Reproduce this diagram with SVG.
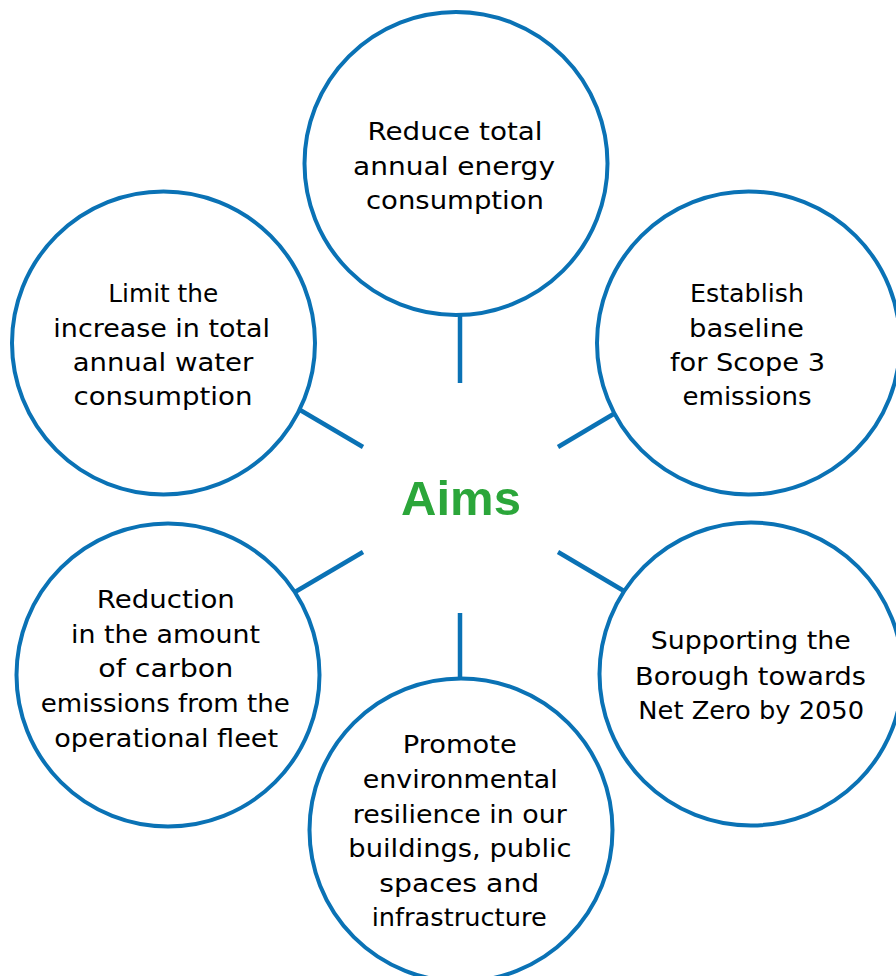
<svg xmlns="http://www.w3.org/2000/svg" width="896" height="976" viewBox="0 0 896 976">
<style>
.c{fill:#fff;stroke:#0a72b5;stroke-width:4}
.l{stroke:#0a72b5;stroke-width:4.5;stroke-linecap:butt;fill:none}
.t{font-family:"DejaVu Sans","Liberation Sans",sans-serif;font-size:25px;fill:#000;text-anchor:middle}
.aims{font-family:"Liberation Sans",Arial,sans-serif;font-weight:bold;font-size:49px;fill:#2ba63a;text-anchor:middle}
</style>
<rect width="896" height="976" fill="#fff"/>
<g id="connectors">
<line class="l" x1="460" y1="300" x2="460" y2="383"/>
<line class="l" x1="295" y1="407" x2="363" y2="447"/>
<line class="l" x1="622" y1="409" x2="558" y2="447"/>
<line class="l" x1="363" y1="552" x2="295" y2="592"/>
<line class="l" x1="558" y1="552" x2="624" y2="591"/>
<line class="l" x1="460" y1="613" x2="460" y2="690"/>
</g>
<g id="center">
<text class="aims" x="461" y="515">Aims</text>
</g>
<g id="node-energy">
<circle class="c" cx="456" cy="163.5" r="151.5"/>
<text class="t" x="455" y="140" textLength="175" lengthAdjust="spacingAndGlyphs">Reduce total</text>
<text class="t" x="454" y="175" textLength="202" lengthAdjust="spacingAndGlyphs">annual energy</text>
<text class="t" x="455" y="209" textLength="178" lengthAdjust="spacingAndGlyphs">consumption</text>
</g>
<g id="node-scope3">
<circle class="c" cx="748.5" cy="343" r="151.5"/>
<text class="t" x="747" y="302" textLength="114" lengthAdjust="spacingAndGlyphs">Establish</text>
<text class="t" x="746.5" y="336.5" textLength="115" lengthAdjust="spacingAndGlyphs">baseline</text>
<text class="t" x="747.5" y="371" textLength="155" lengthAdjust="spacingAndGlyphs">for Scope 3</text>
<text class="t" x="747" y="405" textLength="129" lengthAdjust="spacingAndGlyphs">emissions</text>
</g>
<g id="node-water">
<circle class="c" cx="163.5" cy="343" r="151.5"/>
<text class="t" x="163.3" y="302" textLength="110" lengthAdjust="spacingAndGlyphs">Limit the</text>
<text class="t" x="161.7" y="336.5" textLength="216.7" lengthAdjust="spacingAndGlyphs">increase in total</text>
<text class="t" x="163" y="371" textLength="180.7" lengthAdjust="spacingAndGlyphs">annual water</text>
<text class="t" x="163" y="405" textLength="179" lengthAdjust="spacingAndGlyphs">consumption</text>
</g>
<g id="node-fleet">
<circle class="c" cx="168" cy="675" r="151.5"/>
<text class="t" x="165.8" y="608.3" textLength="138" lengthAdjust="spacingAndGlyphs">Reduction</text>
<text class="t" x="165.5" y="642.7" textLength="189" lengthAdjust="spacingAndGlyphs">in the amount</text>
<text class="t" x="165.8" y="676.7" textLength="135" lengthAdjust="spacingAndGlyphs">of carbon</text>
<text class="t" x="165.3" y="711.7" textLength="249" lengthAdjust="spacingAndGlyphs">emissions from the</text>
<text class="t" x="166.2" y="746.7" textLength="224" lengthAdjust="spacingAndGlyphs">operational fleet</text>
</g>
<g id="node-netzero">
<circle class="c" cx="751" cy="674" r="151.5"/>
<text class="t" x="750.7" y="649.3" textLength="200" lengthAdjust="spacingAndGlyphs">Supporting the</text>
<text class="t" x="750.5" y="685" textLength="231" lengthAdjust="spacingAndGlyphs">Borough towards</text>
<text class="t" x="751.2" y="719.3" textLength="225.7" lengthAdjust="spacingAndGlyphs">Net Zero by 2050</text>
</g>
<g id="node-resilience">
<circle class="c" cx="461" cy="830" r="151.5"/>
<text class="t" x="459.7" y="753.3" textLength="114" lengthAdjust="spacingAndGlyphs">Promote</text>
<text class="t" x="460.2" y="788.3" textLength="195" lengthAdjust="spacingAndGlyphs">environmental</text>
<text class="t" x="459.7" y="822.7" textLength="214" lengthAdjust="spacingAndGlyphs">resilience in our</text>
<text class="t" x="460" y="857.3" textLength="223.3" lengthAdjust="spacingAndGlyphs">buildings, public</text>
<text class="t" x="459.3" y="891.7" textLength="160" lengthAdjust="spacingAndGlyphs">spaces and</text>
<text class="t" x="459.2" y="926" textLength="175" lengthAdjust="spacingAndGlyphs">infrastructure</text>
</g>
</svg>
